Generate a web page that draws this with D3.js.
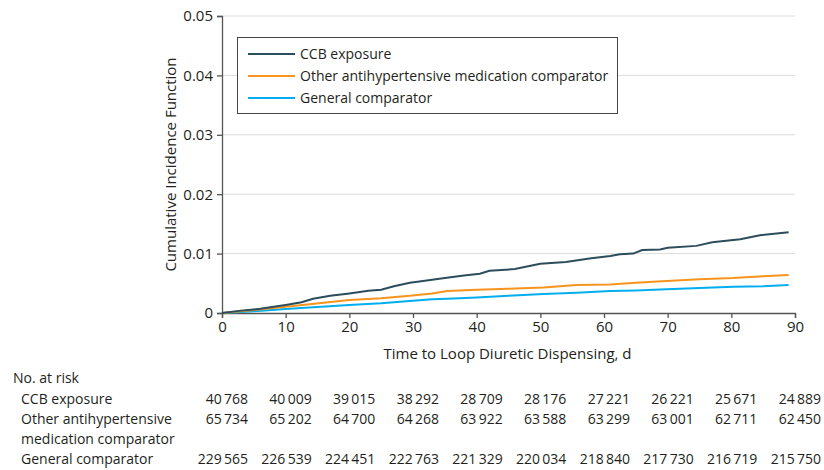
<!DOCTYPE html>
<html>
<head>
<meta charset="utf-8">
<script src="https://cdn.jsdelivr.net/npm/d3@7"></script>
<style>
  body { margin: 0; background: #fff; }
  svg text { font-family: "Open Sans", "Noto Sans", sans-serif; fill: #231f20; }
</style>
</head>
<body>
<svg width="824" height="470"></svg>
<script>
// cumulative incidence, by day
const days = [0, 3, 6, 10, 12.5, 14.3, 17, 20, 23, 25, 27, 29.5, 31, 33, 35, 38, 40.5, 42, 46, 50, 54, 58, 61, 62.5, 64.6, 66, 68.8, 70, 74.5, 77, 81.4, 84.5, 89];
const ccb = [0, 0.0004, 0.0007, 0.00135, 0.0018, 0.0024, 0.0029, 0.0033, 0.00375, 0.0039, 0.0045, 0.0051, 0.0053, 0.0056, 0.0059, 0.0063, 0.0066, 0.0071, 0.0074, 0.0083, 0.0086, 0.0092, 0.0096, 0.0099, 0.0100, 0.0106, 0.0107, 0.0110, 0.0113, 0.0119, 0.0124, 0.0131, 0.0136];

const compDays = [0, 5, 10, 15.6, 20, 25, 29.5, 33, 35.4, 40, 45, 50.5, 55.7, 61, 65, 69.8, 75, 80.3, 85, 89];
const other = [0, 0.0005, 0.00107, 0.0017, 0.0022, 0.0025, 0.0029, 0.0033, 0.0037, 0.0039, 0.0041, 0.0043, 0.0047, 0.0048, 0.0051, 0.0054, 0.0057, 0.0059, 0.0062, 0.0064];
const general = [0, 0.0003, 0.00067, 0.00107, 0.00135, 0.00163, 0.002, 0.0023, 0.0024, 0.0026, 0.0029, 0.0032, 0.0034, 0.0037, 0.0038, 0.0040, 0.0042, 0.0044, 0.0045, 0.0047];

const seriesNames = ["CCB exposure", "Other antihypertensive medication comparator", "General comparator"];
const seriesColors = ["#2c4d5c", "#f7941d", "#00aeef"];

const xTicks = [0, 10, 20, 30, 40, 50, 60, 70, 80, 90];
const yTicks = [0, 0.01, 0.02, 0.03, 0.04, 0.05];

// number at risk
const riskLabels = [["CCB exposure"], ["Other antihypertensive", "medication comparator"], ["General comparator"]];
const riskCCB = [40768, 40009, 39015, 38292, 28709, 28176, 27221, 26221, 25671, 24889];
const riskOther = [65734, 65202, 64700, 64268, 63922, 63588, 63299, 63001, 62711, 62450];
const riskGeneral = [229565, 226539, 224451, 222763, 221329, 220034, 218840, 217730, 216719, 215750];

const fs = 14, fsAxis = 15;
const svg = d3.select("svg");
const x = d3.scaleLinear().domain([0, 90]).range([222, 795]);
const y = d3.scaleLinear().domain([0, 0.05]).range([313, 16]);

// grid
svg.append("g").selectAll("line")
  .data(yTicks.filter(d => d > 0))
  .enter().append("line")
    .attr("x1", x(0)).attr("x2", x(90))
    .attr("y1", d => y(d)).attr("y2", d => y(d))
    .attr("stroke", "#dcdcdc").attr("stroke-width", 1);

const fmtY = d => d === 0 ? "0" : d3.format(".2f")(d);

const yAxis = svg.append("g")
  .attr("transform", `translate(${x(0)},0)`)
  .call(d3.axisLeft(y).tickValues(yTicks).tickFormat(fmtY).tickSize(5).tickPadding(4));
const xAxis = svg.append("g")
  .attr("transform", `translate(0,${y(0)})`)
  .call(d3.axisBottom(x).tickValues(xTicks).tickSize(5).tickPadding(3));

[yAxis, xAxis].forEach(g => {
  g.select(".domain").attr("stroke", "#555").attr("stroke-width", 1.3);
  g.selectAll(".tick line").attr("stroke", "#555").attr("stroke-width", 1.3);
  g.selectAll("text").attr("font-size", fsAxis).attr("fill", "#231f20")
    .style("font-family", "'Open Sans', 'Noto Sans', sans-serif");
});

svg.append("text")
  .attr("transform", `translate(176,${(y(0) + y(0.05)) / 2}) rotate(-90)`)
  .attr("text-anchor", "middle")
  .attr("font-size", fsAxis)
  .text("Cumulative Incidence Function");

svg.append("text")
  .attr("x", (x(0) + x(90)) / 2 - 1).attr("y", 359)
  .attr("text-anchor", "middle")
  .attr("font-size", fsAxis)
  .text("Time to Loop Diuretic Dispensing, d");

// curves
const line = d3.line().x(d => x(d[0])).y(d => y(d[1]));
const curves = [
  d3.zip(days, ccb),
  d3.zip(compDays, other),
  d3.zip(compDays, general)
];
// draw general first so CCB sits on top
[2, 1, 0].forEach(i => {
  svg.append("path")
    .datum(curves[i])
    .attr("d", line)
    .attr("fill", "none")
    .attr("stroke", seriesColors[i])
    .attr("stroke-width", 2);
});

// legend
const lg = svg.append("g");
lg.append("rect")
  .attr("x", 237.5).attr("y", 37.5).attr("width", 380).attr("height", 76)
  .attr("fill", "#fff").attr("stroke", "#444").attr("stroke-width", 1);
seriesNames.forEach((name, i) => {
  const yy = 54 + i * 22;
  lg.append("line").attr("x1", 248).attr("x2", 295).attr("y1", yy).attr("y2", yy)
    .attr("stroke", seriesColors[i]).attr("stroke-width", 2);
  lg.append("text").attr("x", 300).attr("y", yy + 5).attr("font-size", fs).text(name);
});

// risk table
const fmtN = n => d3.format(",")(n).replace(/,/g, "\u2009");
svg.append("text").attr("x", 13).attr("y", 383).attr("font-size", fs).text("No. at risk");
const rows = [riskCCB, riskOther, riskGeneral];
const rowY = [404, 424, 464];
riskLabels.forEach((lines, i) => {
  lines.forEach((t, j) => {
    svg.append("text").attr("x", 21).attr("y", rowY[i] + j * 20).attr("font-size", fs).text(t);
  });
  svg.append("g").selectAll("text")
    .data(rows[i])
    .enter().append("text")
      .attr("x", (d, k) => x(xTicks[k]) + 26)
      .attr("y", rowY[i])
      .attr("text-anchor", "end")
      .attr("font-size", fs)
      .text(fmtN);
});
</script>
</body>
</html>
